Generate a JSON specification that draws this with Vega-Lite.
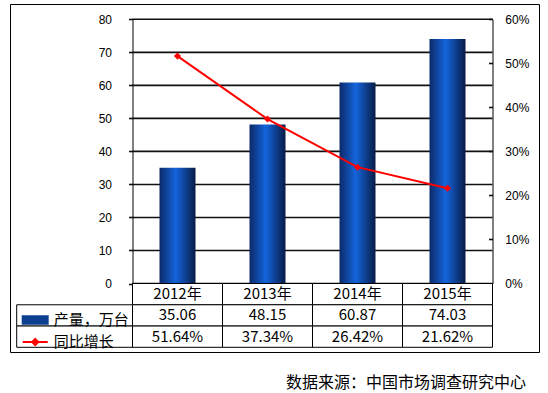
{
  "$schema": "https://vega.github.io/schema/vega-lite/v6.json",
  "width": 529,
  "height": 348,
  "autosize": "none",
  "padding": {"left": 10, "top": 4, "right": 9, "bottom": 41},
  "background": "white",
  "config": {
    "view": {"stroke": "black", "strokeWidth": 1},
    "font": "Noto Sans CJK SC",
    "axis": {"labelFont": "Liberation Sans", "labelFontSize": 12, "labelColor": "black", "domainColor": "black", "tickColor": "black", "title": null}
  },
  "title": {
    "text": "数据来源：中国市场调查研究中心",
    "orient": "bottom",
    "anchor": "end",
    "frame": "group",
    "font": "Noto Sans CJK SC",
    "fontSize": 16,
    "fontWeight": "normal",
    "color": "black",
    "offset": 23,
    "dx": -13
  },
  "data": {
    "values": [
      {"year": "2012年", "prod": 35.06, "growth": 0.5164},
      {"year": "2013年", "prod": 48.15, "growth": 0.3734},
      {"year": "2014年", "prod": 60.87, "growth": 0.2642},
      {"year": "2015年", "prod": 74.03, "growth": 0.2162}
    ]
  },
  "layer": [
    {
      "layer": [
        {
          "layer": [
            {
              "data": {"values": [{"v": 0}, {"v": 10}, {"v": 20}, {"v": 30}, {"v": 40}, {"v": 50}, {"v": 60}, {"v": 70}, {"v": 80}]},
              "mark": {"type": "rule", "color": "#111111", "strokeWidth": 1.6},
              "encoding": {
                "x": {"datum": "2012年", "type": "nominal", "bandPosition": 0, "axis": null},
                "x2": {"datum": "2015年", "bandPosition": 1},
                "y": {"field": "v", "type": "quantitative"}
              }
            },
            {
              "mark": {
                "type": "bar",
                "width": {"band": 0.4},
                "color": {
                  "gradient": "linear", "x1": 0, "y1": 0, "x2": 1, "y2": 0,
                  "stops": [
                    {"offset": 0, "color": "#0c2a68"},
                    {"offset": 0.45, "color": "#1464dc"},
                    {"offset": 1, "color": "#081c46"}
                  ]
                }
              },
              "encoding": {
                "x": {
                  "field": "year", "type": "nominal", "axis": null,
                  "scale": {"domain": ["2012年", "2013年", "2014年", "2015年"], "range": [122.5, 482.5], "paddingInner": 0, "paddingOuter": 0}
                },
                "y": {
                  "field": "prod", "type": "quantitative",
                  "scale": {"domain": [0, 80], "range": [279.5, 15.3], "nice": false, "zero": true},
                  "axis": {
                    "orient": "left", "offset": -122.5, "values": [0, 10, 20, 30, 40, 50, 60, 70, 80],
                    "grid": false, "ticks": true, "tickSize": 4, "tickColor": "#111111", "tickWidth": 1.6, "labelPadding": 17
                  }
                }
              }
            }
          ]
        },
        {
          "mark": {
            "type": "line",
            "strokeWidth": 2,
            "point": {"shape": "diamond", "filled": true, "size": 50, "color": "#ff0000"}
          },
          "encoding": {
            "x": {"field": "year", "type": "nominal", "axis": null},
            "y": {
              "field": "growth", "type": "quantitative",
              "scale": {"domain": [0, 0.6], "range": [279.5, 15.3], "nice": false},
              "axis": {
                "orient": "right", "offset": -46.5, "values": [0, 0.1, 0.2, 0.3, 0.4, 0.5, 0.6],
                "format": ".0%", "grid": false, "ticks": true, "tickSize": -4, "tickColor": "#111111", "tickWidth": 1.6, "labelPadding": 16.3
              }
            },
            "color": {
              "datum": "同比增长", "type": "nominal",
              "scale": {"domain": ["产量，万台", "同比增长"], "range": ["#0d3f8f", "#ff0000"]},
              "legend": {
                "orient": "none", "legendX": 11.7, "legendY": 302.5, "title": null,
                "padding": 0, "rowPadding": -2.5, "labelFontSize": 15, "labelFont": "Noto Sans CJK SC",
                "labelColor": "black", "labelOffset": 5, "symbolSize": 625, "labelLimit": 200,
                "encode": {
                  "symbols": {
                    "update": {
                      "shape": {"signal": "datum.value === '产量，万台' ? 'M-1,-0.3H1V0.3H-1Z' : 'M-1,0H1M0,-0.24L0.24,0L0,0.24L-0.24,0Z'"},
                      "fill": {"signal": "datum.value === '产量，万台' ? '#124a9e' : '#ff0000'"},
                      "stroke": {"signal": "datum.value === '产量，万台' ? 'transparent' : '#ff0000'"},
                      "strokeWidth": {"value": 2},
                      "size": {"value": 625},
                      "opacity": {"value": 1}
                    }
                  }
                }
              }
            }
          }
        },
        {
          "layer": [
            {
              "transform": [{"fold": ["year", "prod", "growth"], "as": ["row", "v"]}],
              "mark": {"type": "rect", "fill": "white", "stroke": "black", "strokeWidth": 1},
              "encoding": {
                "x": {"field": "year", "type": "nominal", "axis": null},
                "y": {
                  "field": "row", "type": "nominal", "axis": null,
                  "scale": {"domain": ["year", "prod", "growth"], "range": [279.5, 343.3], "paddingInner": 0, "paddingOuter": 0}
                }
              }
            },
            {
              "mark": {"type": "text", "fontSize": 15, "font": "Noto Sans CJK SC", "color": "black", "baseline": "middle"},
              "encoding": {
                "x": {"field": "year", "type": "nominal", "axis": null},
                "y": {"datum": "year", "type": "nominal", "axis": null},
                "text": {"field": "year", "type": "nominal"}
              }
            },
            {
              "mark": {"type": "text", "fontSize": 15, "font": "Noto Sans CJK SC", "color": "black", "baseline": "middle"},
              "encoding": {
                "x": {"field": "year", "type": "nominal", "axis": null},
                "y": {"datum": "prod", "type": "nominal", "axis": null},
                "text": {"field": "prod", "type": "quantitative", "format": ".2f"}
              }
            },
            {
              "mark": {"type": "text", "fontSize": 15, "font": "Noto Sans CJK SC", "color": "black", "baseline": "middle"},
              "encoding": {
                "x": {"field": "year", "type": "nominal", "axis": null},
                "y": {"datum": "growth", "type": "nominal", "axis": null},
                "text": {"field": "growth", "type": "quantitative", "format": ".2%"}
              }
            }
          ]
        }
      ],
      "resolve": {"scale": {"y": "independent"}}
    },
    {
      "data": {"values": [{"row": "prod"}, {"row": "growth"}]},
      "mark": {"type": "rect", "fill": "white", "stroke": "black", "strokeWidth": 1},
      "encoding": {
        "x": {
          "datum": "legend", "type": "nominal", "axis": null,
          "scale": {"domain": ["legend"], "range": [6.7, 122.5], "paddingInner": 0, "paddingOuter": 0}
        },
        "y": {
          "field": "row", "type": "nominal", "axis": null,
          "scale": {"domain": ["year", "prod", "growth"], "range": [279.5, 343.3], "paddingInner": 0, "paddingOuter": 0}
        }
      }
    }
  ],
  "resolve": {"scale": {"x": "independent", "y": "independent"}}
}
